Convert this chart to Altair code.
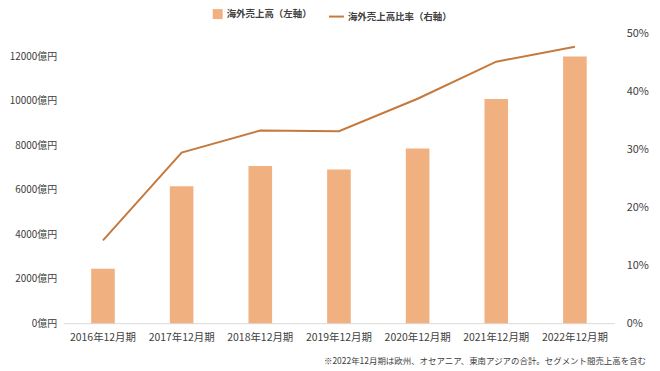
import altair as alt
import pandas as pd

years = ["2016年12月期", "2017年12月期", "2018年12月期", "2019年12月期",
         "2020年12月期", "2021年12月期", "2022年12月期"]
sales = [2450, 6150, 7060, 6910, 7850, 10080, 11990]          # 億円
ratio = [14.3, 29.5, 33.3, 33.2, 38.8, 45.2, 47.8]            # %
left_ticks = [0, 2000, 4000, 6000, 8000, 10000, 12000]
right_ticks = [0, 0.1, 0.2, 0.3, 0.4, 0.5]
note = ["※2022年12月期は欧州、オセアニア、東南アジアの合計。セグメント間売上高を含む"]

df = pd.DataFrame({"year": years, "sales": sales, "ratio": [r / 100 for r in ratio]})
note_df = pd.DataFrame({"t": note})

FONT = "Noto Sans CJK JP"
BAR = "#F0B080"
LINE = "#C47A3E"
TXT = "#404040"

x = alt.X("year:N", sort=years, title=None,
          scale=alt.Scale(paddingInner=0.7, paddingOuter=0.35),
          axis=alt.Axis(labelAngle=0, ticks=False, domainColor="#D9D9D9",
                        labelFontSize=10.5, labelColor=TXT, labelPadding=9,
                        labelFont=FONT, grid=False))

bars = alt.Chart(df).transform_calculate(s1="'海外売上高（左軸）'").mark_bar(color=BAR).encode(
    x=x,
    y=alt.Y("sales:Q", title=None,
            scale=alt.Scale(domain=[0, 13000], nice=False),
            axis=alt.Axis(values=left_ticks, labelExpr="datum.value + '億円'",
                          domain=False, ticks=False, grid=False,
                          labelFontSize=10, labelColor=TXT, labelPadding=7,
                          labelFont=FONT)),
    color=alt.Color("s1:N", scale=alt.Scale(range=[BAR]),
                    legend=alt.Legend(orient="none", legendX=149, legendY=-26,
                                      title=None, symbolType="square", symbolSize=100,
                                      labelFontSize=9.5, labelFontWeight="bold",
                                      labelColor=TXT, labelFont=FONT, padding=0,
                                      labelOffset=3, labelLimit=300)),
)

line = alt.Chart(df).transform_calculate(s2="'海外売上高比率（右軸）'").mark_line(strokeWidth=2).encode(
    x=x,
    y=alt.Y("ratio:Q", title=None,
            scale=alt.Scale(domain=[0, 0.5], nice=False),
            axis=alt.Axis(orient="right", values=right_ticks, format=".0%",
                          domain=False, ticks=False, grid=False,
                          labelFontSize=11, labelColor=TXT, labelPadding=12,
                          labelFont=FONT)),
    stroke=alt.Stroke("s2:N", scale=alt.Scale(range=[LINE]),
                      legend=alt.Legend(orient="none", legendX=266, legendY=-26,
                                        title=None, symbolType="stroke", symbolSize=225,
                                        symbolStrokeWidth=2,
                                        labelFontSize=9.5, labelFontWeight="bold",
                                        labelColor=TXT, labelFont=FONT, padding=0,
                                        labelOffset=3, labelLimit=300)),
)

note_text = alt.Chart(note_df).mark_text(
    align="right", baseline="middle", fontSize=8.5, color=TXT, font=FONT
).encode(text="t:N", x=alt.value(586), y=alt.value(329))

chart = alt.layer(bars, line, note_text).resolve_scale(y="independent").properties(
    width=554, height=291,
    autosize=alt.AutoSizeParams(type="none"),
    padding={"left": 56, "top": 25, "right": 38, "bottom": 45},
).configure_view(stroke=None)

chart.save("out.html", embed_options={"renderer": "svg", "actions": False})
